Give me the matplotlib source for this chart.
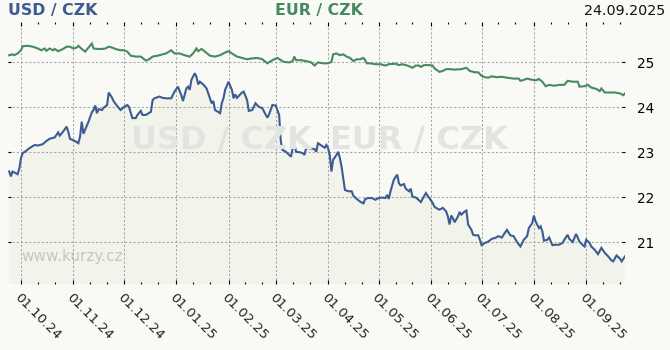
import matplotlib
matplotlib.use("Agg")
import matplotlib.pyplot as plt
import matplotlib.dates as mdates
import pandas as pd

# ---------------- data ----------------
usd_dates = [
    "2024-09-24", "2024-09-25", "2024-09-26", "2024-09-27", "2024-09-29", "2024-09-30",
    "2024-10-01", "2024-10-02", "2024-10-04", "2024-10-06", "2024-10-09", "2024-10-11",
    "2024-10-14", "2024-10-16", "2024-10-18", "2024-10-21", "2024-10-23", "2024-10-24",
    "2024-10-26", "2024-10-28", "2024-10-29", "2024-10-30",
    "2024-11-02", "2024-11-04", "2024-11-05", "2024-11-06", "2024-11-07", "2024-11-08",
    "2024-11-10", "2024-11-12", "2024-11-13", "2024-11-14", "2024-11-15", "2024-11-16",
    "2024-11-18", "2024-11-19", "2024-11-21", "2024-11-22", "2024-11-24", "2024-11-25",
    "2024-11-27", "2024-11-29",
    "2024-12-01", "2024-12-03", "2024-12-04", "2024-12-06", "2024-12-08", "2024-12-09",
    "2024-12-11", "2024-12-12", "2024-12-14", "2024-12-17", "2024-12-18", "2024-12-19",
    "2024-12-22", "2024-12-24", "2024-12-26", "2024-12-29", "2024-12-31",
    "2025-01-02", "2025-01-04", "2025-01-05", "2025-01-07", "2025-01-08", "2025-01-09",
    "2025-01-10", "2025-01-12", "2025-01-13", "2025-01-14", "2025-01-15", "2025-01-17",
    "2025-01-19", "2025-01-21", "2025-01-22", "2025-01-23", "2025-01-24", "2025-01-27",
    "2025-01-28", "2025-01-29", "2025-01-30",
    "2025-02-01", "2025-02-03", "2025-02-04", "2025-02-05", "2025-02-06", "2025-02-09",
    "2025-02-10", "2025-02-12", "2025-02-13", "2025-02-15", "2025-02-17", "2025-02-19",
    "2025-02-21", "2025-02-24", "2025-02-25", "2025-02-27",
    "2025-03-01", "2025-03-03", "2025-03-04", "2025-03-05", "2025-03-07", "2025-03-10",
    "2025-03-11", "2025-03-12", "2025-03-13", "2025-03-15", "2025-03-17", "2025-03-18",
    "2025-03-19", "2025-03-21", "2025-03-24", "2025-03-25", "2025-03-26", "2025-03-28",
    "2025-03-30", "2025-03-31",
    "2025-04-01", "2025-04-02", "2025-04-03", "2025-04-04", "2025-04-06", "2025-04-07",
    "2025-04-08", "2025-04-09", "2025-04-10", "2025-04-11", "2025-04-13", "2025-04-15",
    "2025-04-16", "2025-04-18", "2025-04-20", "2025-04-22", "2025-04-23", "2025-04-25",
    "2025-04-27", "2025-04-29",
    "2025-05-01", "2025-05-03", "2025-05-05", "2025-05-06", "2025-05-07", "2025-05-08",
    "2025-05-09", "2025-05-10", "2025-05-12", "2025-05-13", "2025-05-14", "2025-05-16",
    "2025-05-17", "2025-05-19", "2025-05-20", "2025-05-21", "2025-05-23", "2025-05-24",
    "2025-05-26", "2025-05-27", "2025-05-29", "2025-05-31",
    "2025-06-02", "2025-06-03", "2025-06-04", "2025-06-06", "2025-06-08", "2025-06-10",
    "2025-06-11", "2025-06-12", "2025-06-13", "2025-06-14", "2025-06-15", "2025-06-17",
    "2025-06-18", "2025-06-19", "2025-06-21", "2025-06-22", "2025-06-23", "2025-06-25",
    "2025-06-26", "2025-06-27", "2025-06-29", "2025-06-30",
    "2025-07-01", "2025-07-03", "2025-07-05", "2025-07-07", "2025-07-09", "2025-07-11",
    "2025-07-13", "2025-07-14", "2025-07-16", "2025-07-18", "2025-07-20", "2025-07-22",
    "2025-07-24", "2025-07-26", "2025-07-28", "2025-07-29", "2025-07-31",
    "2025-08-01", "2025-08-02", "2025-08-04", "2025-08-05", "2025-08-06", "2025-08-07",
    "2025-08-09", "2025-08-10", "2025-08-12", "2025-08-14", "2025-08-16", "2025-08-18",
    "2025-08-19", "2025-08-21", "2025-08-22", "2025-08-24", "2025-08-26", "2025-08-28",
    "2025-08-30", "2025-08-31",
    "2025-09-01", "2025-09-03", "2025-09-04", "2025-09-06", "2025-09-08", "2025-09-10",
    "2025-09-12", "2025-09-14", "2025-09-16", "2025-09-17", "2025-09-19", "2025-09-21",
    "2025-09-22", "2025-09-24",
]
usd_values = [
    22.57, 22.46, 22.57, 22.55, 22.51, 22.64,
    22.87, 22.98, 23.03, 23.09, 23.16, 23.15,
    23.18, 23.25, 23.30, 23.33, 23.44, 23.37,
    23.46, 23.57, 23.46, 23.30,
    23.25, 23.20, 23.35, 23.68, 23.41, 23.50,
    23.68, 23.89, 23.94, 24.04, 23.87, 23.96,
    23.94, 23.99, 24.05, 24.33, 24.21, 24.13,
    24.03, 23.94,
    24.01, 24.05, 24.01, 23.76, 23.76, 23.83,
    23.92, 23.83, 23.83, 23.90, 24.16, 24.20,
    24.24, 24.21, 24.20, 24.20, 24.35,
    24.46, 24.27, 24.14, 24.42, 24.46, 24.39,
    24.61, 24.76, 24.68, 24.51, 24.57, 24.51,
    24.42, 24.20, 24.09, 24.14, 23.94, 23.87,
    24.09, 24.20, 24.39,
    24.57, 24.39, 24.20, 24.29, 24.21, 24.33,
    24.35, 24.16, 23.92, 23.94, 24.09, 24.01,
    23.98, 23.77, 23.84, 24.05,
    24.04, 23.83, 23.24, 23.05, 23.01, 22.90,
    23.09, 23.20, 23.01, 23.00, 22.98, 22.94,
    23.09, 23.09, 23.07, 23.01, 23.20, 23.15,
    23.10, 23.16,
    23.09, 22.94, 22.57, 22.83, 22.94, 23.01,
    22.87, 22.68, 22.42, 22.16, 22.13, 22.13,
    22.03, 21.96, 21.90, 21.86, 21.96, 21.98,
    21.98, 21.94,
    21.98, 21.99, 21.98, 22.05, 21.96, 22.13,
    22.26, 22.39, 22.50, 22.31, 22.26, 22.29,
    22.19, 22.13, 22.19, 22.01, 21.99, 21.96,
    21.89, 21.96, 22.09, 21.98,
    21.87, 21.79, 21.76, 21.72, 21.76, 21.68,
    21.57, 21.39, 21.59, 21.53, 21.44, 21.57,
    21.67, 21.61, 21.68, 21.70, 21.39, 21.27,
    21.16, 21.15, 21.15, 21.05,
    20.93, 20.98, 21.01, 21.07, 21.09, 21.13,
    21.10, 21.16, 21.27, 21.15, 21.13, 21.00,
    20.90, 21.05, 21.13, 21.31, 21.42,
    21.59, 21.46, 21.31, 21.35, 21.24, 21.03,
    21.05, 21.10, 20.93, 20.94, 20.94, 20.98,
    21.05, 21.16, 21.07, 21.00, 21.18, 21.01,
    20.93, 20.90,
    21.05, 20.98, 20.90, 20.83, 20.73, 20.87,
    20.76, 20.68, 20.59, 20.57, 20.70, 20.63,
    20.57, 20.68,
]

eur_dates = [
    "2024-09-24", "2024-09-26", "2024-09-27", "2024-09-29",
    "2024-10-01", "2024-10-02", "2024-10-05", "2024-10-08", "2024-10-11", "2024-10-13",
    "2024-10-15", "2024-10-16", "2024-10-18", "2024-10-20", "2024-10-21", "2024-10-23",
    "2024-10-26", "2024-10-28", "2024-10-30",
    "2024-11-01", "2024-11-03", "2024-11-04", "2024-11-06", "2024-11-08", "2024-11-10",
    "2024-11-12", "2024-11-13", "2024-11-15", "2024-11-18", "2024-11-20", "2024-11-22",
    "2024-11-24", "2024-11-26", "2024-11-29",
    "2024-12-01", "2024-12-03", "2024-12-05", "2024-12-08", "2024-12-11", "2024-12-14",
    "2024-12-16", "2024-12-18", "2024-12-21", "2024-12-24", "2024-12-26", "2024-12-29",
    "2024-12-31",
    "2025-01-03", "2025-01-06", "2025-01-09", "2025-01-11", "2025-01-13", "2025-01-14",
    "2025-01-16", "2025-01-18", "2025-01-21", "2025-01-24", "2025-01-27", "2025-01-30",
    "2025-02-01", "2025-02-03", "2025-02-06", "2025-02-09", "2025-02-12", "2025-02-15",
    "2025-02-18", "2025-02-21", "2025-02-24", "2025-02-27",
    "2025-03-02", "2025-03-04", "2025-03-06", "2025-03-09", "2025-03-11", "2025-03-12",
    "2025-03-13", "2025-03-16", "2025-03-19", "2025-03-22", "2025-03-24", "2025-03-26",
    "2025-03-29",
    "2025-04-01", "2025-04-03", "2025-04-04", "2025-04-06", "2025-04-08", "2025-04-10",
    "2025-04-12", "2025-04-14", "2025-04-16", "2025-04-18", "2025-04-20", "2025-04-22",
    "2025-04-23", "2025-04-24", "2025-04-26", "2025-04-29",
    "2025-05-02", "2025-05-05", "2025-05-07", "2025-05-11", "2025-05-13", "2025-05-15",
    "2025-05-18", "2025-05-20", "2025-05-21", "2025-05-23", "2025-05-25", "2025-05-26",
    "2025-05-28", "2025-05-31",
    "2025-06-02", "2025-06-03", "2025-06-06", "2025-06-08", "2025-06-10", "2025-06-12",
    "2025-06-15", "2025-06-19", "2025-06-22", "2025-06-24", "2025-06-27", "2025-06-29",
    "2025-07-01", "2025-07-03", "2025-07-05", "2025-07-07", "2025-07-10", "2025-07-13",
    "2025-07-16", "2025-07-20", "2025-07-23", "2025-07-24", "2025-07-26", "2025-07-28",
    "2025-07-30",
    "2025-08-02", "2025-08-04", "2025-08-06", "2025-08-08", "2025-08-10", "2025-08-13",
    "2025-08-16", "2025-08-19", "2025-08-21", "2025-08-24", "2025-08-27", "2025-08-28",
    "2025-08-31",
    "2025-09-02", "2025-09-04", "2025-09-07", "2025-09-09", "2025-09-10", "2025-09-12",
    "2025-09-15", "2025-09-18", "2025-09-21", "2025-09-23", "2025-09-24",
]
eur_values = [
    25.16, 25.18, 25.16, 25.20,
    25.27, 25.36, 25.37, 25.35, 25.31, 25.27,
    25.31, 25.26, 25.31, 25.27, 25.30, 25.25,
    25.30, 25.35, 25.35,
    25.31, 25.33, 25.37, 25.30, 25.24, 25.33,
    25.42, 25.31, 25.30, 25.30, 25.31, 25.35,
    25.33, 25.30, 25.27,
    25.27, 25.24, 25.15, 25.13, 25.13, 25.04,
    25.07, 25.13, 25.15, 25.18, 25.20, 25.27,
    25.20,
    25.20, 25.16, 25.13, 25.20, 25.31, 25.25,
    25.30, 25.24, 25.15, 25.13, 25.16, 25.22,
    25.25, 25.20, 25.13, 25.10, 25.07, 25.09,
    25.10, 25.07, 24.98, 25.05,
    25.10, 25.05, 25.01, 25.00, 25.03, 25.13,
    25.05, 25.05, 25.03, 25.00, 24.93, 25.00,
    24.98,
    24.98, 25.01, 25.18, 25.20, 25.16, 25.18,
    25.13, 25.10, 25.03, 25.07, 25.07, 25.10,
    25.05, 24.98, 24.98, 24.96,
    24.96, 24.93, 24.96, 24.97, 24.94, 24.96,
    24.93, 24.90, 24.88, 24.93, 24.93, 24.90,
    24.94, 24.94,
    24.93, 24.87, 24.79, 24.81, 24.85, 24.85,
    24.84, 24.85, 24.88, 24.81, 24.78, 24.78,
    24.70, 24.67, 24.66, 24.69, 24.67, 24.68,
    24.66, 24.64, 24.64, 24.59, 24.61, 24.64,
    24.62,
    24.60, 24.63, 24.57, 24.47, 24.50, 24.48,
    24.50, 24.50, 24.59, 24.57, 24.57, 24.46,
    24.47,
    24.50, 24.44, 24.41, 24.36, 24.42, 24.33,
    24.33, 24.33, 24.31, 24.27, 24.31,
]

y_ticks = [21, 22, 23, 24, 25]
title_usd = "USD / CZK"
title_eur = "EUR / CZK"
date_label = "24.09.2025"
site_label = "www.kurzy.cz"

# ---------------- style ----------------
BG = "#f9f9f5"
FILL = "#f2f3eb"
BLUE = "#3d5b93"
GREEN = "#478a5f"
GRID = "#a3a3a3"
WM = "#e3e3e1"

W, H = 670, 350
fig = plt.figure(figsize=(W / 100, H / 100), dpi=100, facecolor=BG)
ax = fig.add_axes([8 / W, 1 - 284 / H, (625 - 8) / W, (284 - 22) / H])
ax.set_facecolor(BG)

ud = pd.to_datetime(usd_dates)
ed = pd.to_datetime(eur_dates)

ax.fill_between(ud, usd_values, 0, color=FILL, lw=0, zorder=1)
ax.plot(ud, usd_values, color=BLUE, lw=1.5, zorder=4, solid_joinstyle="miter")
ax.plot(ed, eur_values, color=GREEN, lw=1.5, zorder=4, solid_joinstyle="miter")

ax.set_xlim(pd.Timestamp("2024-09-23 07:00"), pd.Timestamp("2025-09-24 00:00"))
ax.set_ylim(20.065, 25.90)

for s in ax.spines.values():
    s.set_visible(False)

ax.xaxis.set_major_locator(mdates.MonthLocator())
ax.xaxis.set_major_formatter(mdates.DateFormatter("%d.%m.%y"))
ax.xaxis.set_minor_locator(mdates.DayLocator(bymonthday=[11, 21]))
ax.set_yticks(y_ticks)

ax.grid(True, which="major", color=GRID, lw=0.75, linestyle=(0, (2, 2)))
ax.set_axisbelow("line")

ax.tick_params(axis="x", which="major", direction="in", length=3, width=0.8,
               top=True, bottom=True, labelsize=9.6, pad=5, color="black")
ax.tick_params(axis="x", which="minor", direction="in", length=1.6, width=0.8,
               top=True, bottom=True, color="black")
ax.tick_params(axis="y", which="major", direction="in", length=2.5, width=0.8,
               left=True, right=True, labelleft=False, labelright=True,
               labelsize=9.8, pad=9, color="black")
plt.setp(ax.get_xticklabels(), rotation=-45, ha="left", va="top",
         rotation_mode="anchor", color="#222222")

# watermarks
fig.text(131 / W, 1 - 140 / H, title_usd, color=WM, fontsize=23, fontweight="bold",
         ha="left", va="center", zorder=1.2)
fig.text(330 / W, 1 - 140 / H, title_eur, color=WM, fontsize=23, fontweight="bold",
         ha="left", va="center", zorder=1.2)
fig.text(21.5 / W, 1 - 260.5 / H, site_label, color="#c6c6c6", fontsize=11,
         ha="left", va="baseline")

# header
fig.text(8 / W, 1 - 11 / H, title_usd, color=BLUE, fontsize=11.3, fontweight="bold",
         ha="left", va="center")
fig.text(275 / W, 1 - 11 / H, title_eur, color=GREEN, fontsize=11.3, fontweight="bold",
         ha="left", va="center")
fig.text(665 / W, 1 - 11 / H, date_label, color="#111111", fontsize=10.3,
         ha="right", va="center")

fig.savefig("out.png", dpi=100, facecolor=BG)
